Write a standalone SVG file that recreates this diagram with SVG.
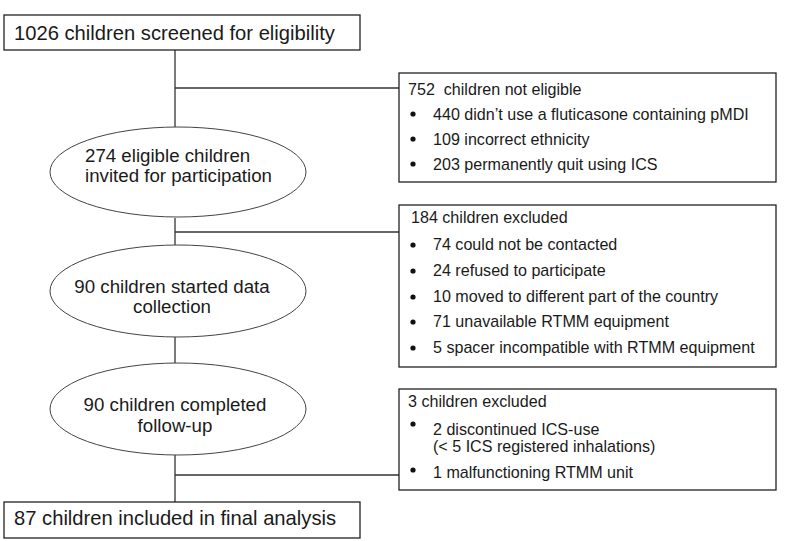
<svg xmlns="http://www.w3.org/2000/svg" width="788" height="541" viewBox="0 0 788 541">
<style>
text{font-family:"Liberation Sans",Arial,sans-serif;fill:#1a1a1a}
.big{font-size:20.2px}
.mid{font-size:18.7px}
.sm{font-size:16.1px}
.box{fill:#fff;stroke:#222;stroke-width:1.3}
.ell{fill:#fff;stroke:#444;stroke-width:1}
.ln{stroke:#333;stroke-width:1.3;fill:none}
.dot{fill:#111}
</style>
<rect width="788" height="541" fill="#fff"/>
<g id="connectors">
<line class="ln" x1="175" y1="50" x2="175" y2="127"/>
<line class="ln" x1="175" y1="88" x2="399" y2="88"/>
<line class="ln" x1="175" y1="218" x2="175" y2="245"/>
<line class="ln" x1="175" y1="232" x2="399" y2="232"/>
<line class="ln" x1="175" y1="337" x2="175" y2="363"/>
<line class="ln" x1="175" y1="455" x2="175" y2="502"/>
<line class="ln" x1="175" y1="475" x2="399" y2="475"/>
</g>
<g id="screened">
<rect class="box" x="4" y="15" width="356" height="35"/>
<text class="big" x="14" y="40">1026 children screened for eligibility</text>
</g>
<g id="eligible">
<ellipse class="ell" cx="178" cy="172" rx="128" ry="45"/>
<text class="mid" x="85" y="162">274 eligible children</text>
<text class="mid" x="85" y="182">invited for participation</text>
</g>
<g id="started">
<ellipse class="ell" cx="178" cy="291" rx="128" ry="46"/>
<text class="mid" x="172" y="293" text-anchor="middle">90 children started data</text>
<text class="mid" x="172" y="313" text-anchor="middle">collection</text>
</g>
<g id="completed">
<ellipse class="ell" cx="178" cy="409" rx="128" ry="46"/>
<text class="mid" x="175" y="411" text-anchor="middle">90 children completed</text>
<text class="mid" x="175" y="432" text-anchor="middle">follow-up</text>
</g>
<g id="final">
<rect class="box" x="4" y="502" width="356" height="36"/>
<text class="big" x="14" y="525">87 children included in final analysis</text>
</g>
<g id="not-eligible">
<rect class="box" x="399" y="73" width="377" height="109"/>
<text class="sm" x="408" y="95" xml:space="preserve">752  children not eligible</text>
<circle class="dot" cx="413" cy="114" r="2.6"/>
<text class="sm" x="433" y="120">440 didn’t use a fluticasone containing pMDI</text>
<circle class="dot" cx="413" cy="139" r="2.6"/>
<text class="sm" x="433" y="145">109 incorrect ethnicity</text>
<circle class="dot" cx="413" cy="164" r="2.6"/>
<text class="sm" x="433" y="170">203 permanently quit using ICS</text>
</g>
<g id="excluded-184">
<rect class="box" x="399" y="205" width="377" height="162"/>
<text class="sm" x="411" y="223">184 children excluded</text>
<circle class="dot" cx="413" cy="245" r="2.6"/>
<text class="sm" x="433" y="250">74 could not be contacted</text>
<circle class="dot" cx="413" cy="271" r="2.6"/>
<text class="sm" x="433" y="276">24 refused to participate</text>
<circle class="dot" cx="413" cy="297" r="2.6"/>
<text class="sm" x="433" y="302">10 moved to different part of the country</text>
<circle class="dot" cx="413" cy="322" r="2.6"/>
<text class="sm" x="433" y="327">71 unavailable RTMM equipment</text>
<circle class="dot" cx="413" cy="348" r="2.6"/>
<text class="sm" x="433" y="353">5 spacer incompatible with RTMM equipment</text>
</g>
<g id="excluded-3">
<rect class="box" x="399" y="389" width="377" height="101"/>
<text class="sm" x="408" y="407">3 children excluded</text>
<circle class="dot" cx="413" cy="424" r="2.6"/>
<text class="sm" x="433" y="435">2 discontinued ICS-use</text>
<text class="sm" x="433" y="452">(&lt; 5 ICS registered inhalations)</text>
<circle class="dot" cx="413" cy="470" r="2.6"/>
<text class="sm" x="433" y="478">1 malfunctioning RTMM unit</text>
</g>
</svg>
